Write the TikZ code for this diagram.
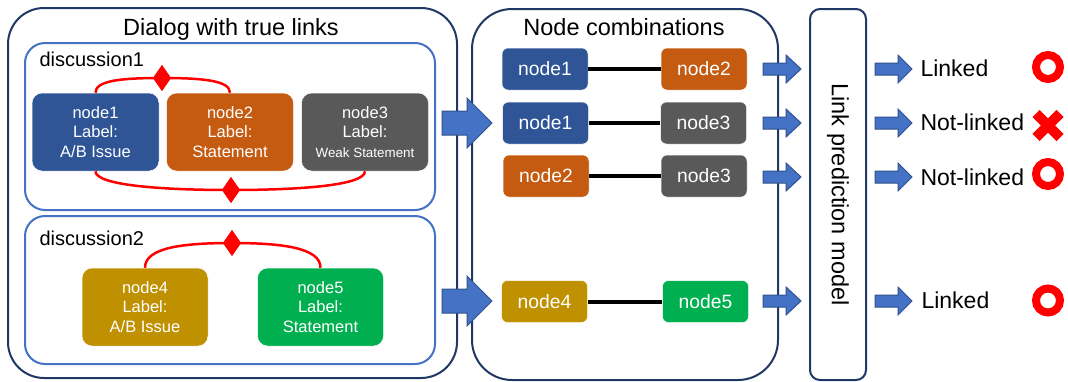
\documentclass[tikz,border=0pt]{standalone}
\usepackage{fontspec}
\setmainfont{Liberation Sans}
\usetikzlibrary{shapes.geometric}
\definecolor{navy}{HTML}{203864}
\definecolor{accblue}{HTML}{4472C4}
\definecolor{arrowline}{HTML}{2F528F}
\definecolor{cblue}{HTML}{2F5597}
\definecolor{corange}{HTML}{C55A11}
\definecolor{cgray}{HTML}{595959}
\definecolor{cgold}{HTML}{BF9000}
\definecolor{cgreen}{HTML}{00B050}
\definecolor{cred}{HTML}{FF0000}
\newcommand{\blkarrow}[6]{%
  \draw[blockarrow] (#1,{#2-#4/2}) -- ({#1+#3-#6},{#2-#4/2}) -- ({#1+#3-#6},{#2-#5/2})
    -- ({#1+#3},#2) -- ({#1+#3-#6},{#2+#5/2}) -- ({#1+#3-#6},{#2+#4/2}) -- (#1,{#2+#4/2}) -- cycle;}
\begin{document}
\begin{tikzpicture}[x=1pt,y=-1pt,
  bigframe/.style={draw=navy, line width=2pt, rounded corners=36pt, inner sep=0pt},
  discframe/.style={draw=accblue, line width=2pt, rounded corners=20pt, inner sep=0pt},
  modelbox/.style={draw=navy, line width=2pt, rounded corners=10pt, inner sep=0pt,
    font=\fontsize{23.5}{27}\selectfont},
  dnode/.style={rounded corners=10pt, minimum width=127pt, minimum height=78pt, inner sep=0pt,
    text=white, align=center, draw=white, line width=0.5pt, font=\fontsize{16.5}{19.5}\selectfont},
  pnode/.style={rounded corners=6pt, minimum width=86pt, minimum height=42pt, inner sep=0pt,
    text=white, draw=white, line width=0.5pt, font=\fontsize{19.3}{22}\selectfont},
  titletext/.style={anchor=base, font=\fontsize{23.5}{27}\selectfont},
  disctext/.style={anchor=base west, font=\fontsize{20}{24}\selectfont},
  outtext/.style={anchor=base west, font=\fontsize{23}{27}\selectfont},
  redlink/.style={draw=cred, line width=2.5pt},
  reddiamond/.style={diamond, fill=cred, inner sep=0pt, minimum width=18pt, minimum height=26pt},
  pairline/.style={draw=black, line width=4pt},
  blockarrow/.style={fill=accblue, draw=arrowline, line width=1pt, line join=miter},
  ring/.style={circle, draw=cred, line width=8pt, minimum size=24pt, inner sep=0pt},
  wrongmark/.style={draw=cred, line width=10pt, line cap=butt}]
\fill[white] (0,0) rectangle (1068,381);
\useasboundingbox (0,0) rectangle (1068,381);

% frames
\node[bigframe, minimum width=449pt, minimum height=370pt] (dialog) at (232.5,193) {};
\node[titletext] (dialogtitle) at (231,35) {Dialog with true links};
\node[discframe, minimum width=410pt, minimum height=167pt] (disc1) at (230,126.5) {};
\node[disctext] (disc1title) at (36,66) {discussion1};
\node[discframe, minimum width=410pt, minimum height=148pt] (disc2) at (230,290) {};
\node[disctext] (disc2title) at (36,245) {discussion2};

\node[bigframe, rounded corners=40pt, minimum width=306pt, minimum height=371pt] (combos) at (625,194.5) {};
\node[titletext] (combostitle) at (624,35) {Node combinations};

\node[modelbox, rotate=-90, minimum width=371pt, minimum height=56pt] (model) at (838,194.5) {Link prediction model};

% discussion 1 nodes
\node[dnode, fill=cblue] (n1) at (95.5,132) {node1\\Label:\\A/B Issue};
\node[dnode, fill=corange] (n2) at (230,132) {node2\\Label:\\Statement};
\node[dnode, fill=cgray] (n3) at (365,132) {node3\\Label:\\{\fontsize{13.4}{19.5}\selectfont Weak Statement}};

% discussion 2 nodes
\node[dnode, fill=cgold, minimum width=126pt] (n4) at (145,307) {node4\\Label:\\A/B Issue};
\node[dnode, fill=cgreen, minimum width=126pt] (n5) at (320.5,307) {node5\\Label:\\Statement};

% red links
\node[reddiamond] (d1) at (162,78) {};
\node[reddiamond] (d2) at (231,190) {};
\node[reddiamond] (d3) at (232,243) {};
\draw[redlink] (n1.north) .. controls +(0,-12) and +(-42,0) .. (d1.center)
  .. controls +(42,0) and +(0,-12) .. (n2.north);
\draw[redlink] (n1.south) .. controls +(0,14) and +(-70,0) .. (d2.center)
  .. controls +(70,0) and +(0,14) .. (n3.south);
\draw[redlink] (n4.north) .. controls +(0,-20) and +(-50,0) .. (d3.center)
  .. controls +(50,0) and +(0,-20) .. (n5.north);
\node[reddiamond] at (d1) {};
\node[reddiamond] at (d2) {};
\node[reddiamond] at (d3) {};

% node combinations
\node[pnode, fill=cblue] (p11) at (545,69) {node1};
\node[pnode, fill=corange] (p12) at (704,69) {node2};
\node[pnode, fill=cblue] (p21) at (545.5,123) {node1};
\node[pnode, fill=cgray] (p22) at (703.5,123) {node3};
\node[pnode, fill=corange] (p31) at (546,176) {node2};
\node[pnode, fill=cgray] (p32) at (704,176) {node3};
\node[pnode, fill=cgold] (p41) at (544.5,301.5) {node4};
\node[pnode, fill=cgreen] (p42) at (705.5,301.5) {node5};
\draw[pairline] (p11) -- (p12);
\draw[pairline] (p21) -- (p22);
\draw[pairline] (p31) -- (p32);
\draw[pairline] (p41) -- (p42);

% block arrows
\blkarrow{442}{123}{50}{24}{50}{25}
\blkarrow{442}{301}{50}{24}{50}{25}
\blkarrow{763}{69}{38}{12}{28}{15}
\blkarrow{763}{123}{38}{12}{28}{15}
\blkarrow{763}{177}{38}{12}{28}{15}
\blkarrow{763}{301}{38}{12}{28}{15}
\blkarrow{875}{69}{37}{12}{28}{14}
\blkarrow{875}{123}{37}{12}{28}{14}
\blkarrow{875}{177}{37}{12}{28}{14}
\blkarrow{875}{301}{37}{12}{28}{14}

% outputs
\node[outtext] (o1) at (917,76) {Linked};
\node[outtext] (o2) at (917,130) {Not-linked};
\node[outtext] (o3) at (917,185) {Not-linked};
\node[outtext] (o4) at (918,308) {Linked};

\node[ring] (r1) at (1048,67) {};
\coordinate (x2) at (1048,125.5);
\draw[wrongmark] ([shift={(-12,-12)}]x2) -- ([shift={(12,12)}]x2);
\draw[wrongmark] ([shift={(-12,12)}]x2) -- ([shift={(12,-12)}]x2);
\node[ring] (r3) at (1048,174) {};
\node[ring] (r4) at (1048,300.5) {};
\end{tikzpicture}
\end{document}
